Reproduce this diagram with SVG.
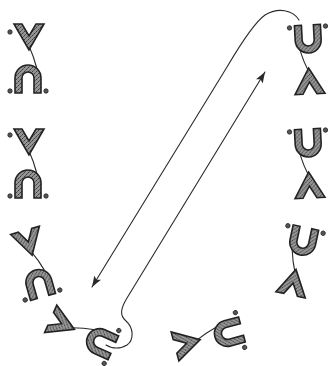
<svg xmlns="http://www.w3.org/2000/svg" width="330" height="366" viewBox="0 0 330 366">
<style>
.thin{fill:none;stroke:#2a2a2a;stroke-width:1.1;stroke-linecap:round}
.thick{fill:url(#stip);stroke:#222;stroke-width:1.6;stroke-linejoin:miter}
.dot{fill:#555;stroke:#222;stroke-width:0.8}
.conn{fill:none;stroke:#2a2a2a;stroke-width:1.1;stroke-linecap:round;stroke-linejoin:round}
</style>
<defs>
<pattern id="stip" width="4" height="4" patternUnits="userSpaceOnUse">
<rect width="4" height="4" fill="#959595"/>
<rect x="0" y="0" width="1" height="1" fill="#3c3c3c"/>
<rect x="2" y="2" width="1" height="1" fill="#3c3c3c"/>
<rect x="3" y="1" width="1" height="1" fill="#5e5e5e"/>
<rect x="1" y="3" width="1" height="1" fill="#5e5e5e"/>
</pattern>
<marker id="ah" markerUnits="userSpaceOnUse" markerWidth="14" markerHeight="10" refX="11" refY="4" orient="auto-start-reverse" viewBox="0 0 14 10">
<path d="M0,0 L11,4 L0,8 L2.5,4 Z" fill="#2a2a2a"/>
</marker>
<g id="core">
<path class="thin" d="M1,-45 Q6,-34 9,-22"/>
<polygon class="thick" points="-14,-67 -6,-67 1,-55 8,-67 16,-67 1,-41"/>
<path class="thick" d="M-13,2 L-13,-13 A13,13 0 0 1 13,-13 L13,2 L6,2 L6,-13 A6,6 0 0 0 -6,-13 L-6,2 Z"/>
<circle class="dot" cx="-18" cy="0" r="2.2"/>
<circle class="dot" cx="18" cy="0" r="2.2"/>
</g>
</defs>
<g id="connectors">
<path class="conn" d="M299,20 C293,10 278,7 265,15 C255,22 240,45 227,67 L92,287" marker-end="url(#ah)"/>
<path class="conn" d="M265,72 L127,298 C121,308 119,315 126,321 C134,328 134,340 127,345 C121,349 112,349 106,345" marker-start="url(#ah)"/>
</g>
<g id="n1" transform="translate(28,91)"><use href="#core"/><circle class="dot" cx="-18" cy="-59" r="2.2"/></g>
<g id="n2" transform="translate(28,196)"><use href="#core"/><circle class="dot" cx="-18" cy="-61" r="2.2"/></g>
<g id="n3" transform="translate(42.5,295) rotate(-16)"><use href="#core"/></g>
<g id="n4" transform="translate(111.5,347) rotate(-66)"><use href="#core"/></g>
<g id="n5" transform="translate(240,330) rotate(-105)"><use href="#core"/></g>
<g id="r1" transform="translate(307.5,27) rotate(177)"><use href="#core"/></g>
<g id="r2" transform="translate(307.5,131) rotate(177)"><use href="#core"/></g>
<g id="r3" transform="translate(305.5,229.5) rotate(192)"><use href="#core"/></g>
</svg>
